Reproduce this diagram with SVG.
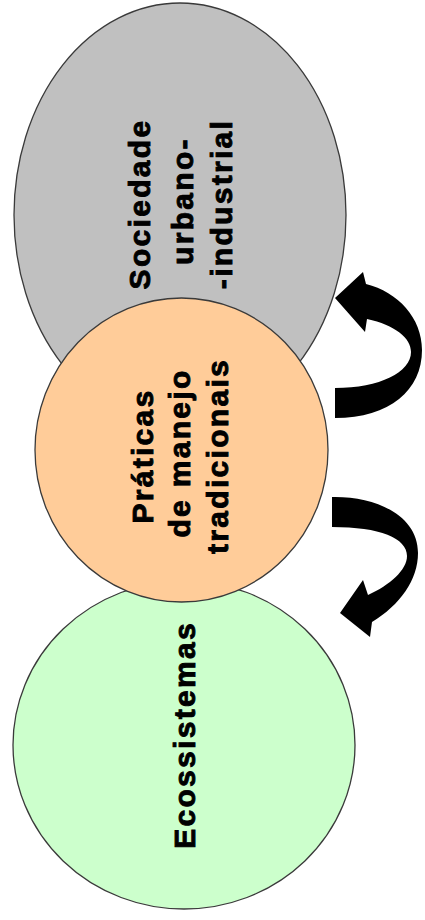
<svg xmlns="http://www.w3.org/2000/svg" width="425" height="920" viewBox="0 0 425 920">
<style>
.shape{stroke:#3a3a3a;stroke-width:1.3}
.lbl{font-family:"Liberation Sans",Arial,sans-serif;font-weight:bold;font-size:30px;letter-spacing:2.3px;fill:#000;stroke:#000;stroke-width:0.9px;text-anchor:middle}
.arrow{fill:#000;stroke:none}
</style>
<rect width="425" height="920" fill="#fff"/>
<g id="sociedade">
<ellipse class="shape" cx="180" cy="215" rx="166" ry="212" fill="#c0c0c0"/>
<text class="lbl" transform="translate(150,204) rotate(-90)">Sociedade</text>
<text class="lbl" transform="translate(193,201) rotate(-90)">urbano-</text>
<text class="lbl" transform="translate(232,204) rotate(-90)">-industrial</text>
</g>
<g id="ecossistemas">
<ellipse class="shape" cx="184" cy="745" rx="171" ry="164" fill="#ccffcc"/>
<text class="lbl" transform="translate(195,735) rotate(-90)">Ecossistemas</text>
</g>
<g id="praticas">
<ellipse class="shape" cx="181.5" cy="450" rx="146.5" ry="152" fill="#ffcc99"/>
<text class="lbl" transform="translate(153,456) rotate(-90)">Práticas</text>
<text class="lbl" transform="translate(190,453) rotate(-90)">de manejo</text>
<text class="lbl" transform="translate(228,456) rotate(-90)">tradicionais</text>
</g>
<g id="connectors">
<path class="arrow" d="M335,418 C390,418 422,390 422,350 C422,318 398,292 366,284 L363,272 L335,298 L365,332 L367,319 C395,325 411,338 411,352 C411,372 380,388 335,388 Z"/>
<path class="arrow" d="M332,497 C375,496 418,515 418,553 C418,580 400,605 372,622 L370,637 L340,613 L363,580 L368,595 C390,585 407,570 407,556 C407,538 380,527 332,527 Z"/>
</g>
</svg>
